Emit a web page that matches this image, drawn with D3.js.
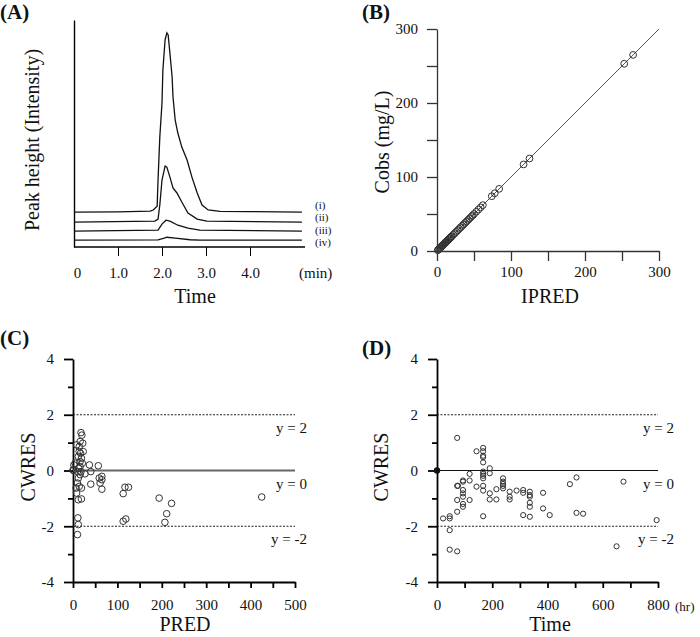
<!DOCTYPE html>
<html>
<head>
<meta charset="utf-8">
<script src="https://cdn.jsdelivr.net/npm/d3@7"></script>
<style>
  body { margin: 0; background: #fff; }
  svg text { font-family: "Liberation Serif", "DejaVu Serif", serif; fill: #111; }
  .tick text { font-size: 15px; }
</style>
</head>
<body>
<svg id="fig" width="700" height="637"></svg>
<script>
// (A) chromatograms: time (min) and intensity above each trace baseline (arbitrary units)
var traceNames = ["(i)", "(ii)", "(iii)", "(iv)"];
var traceOffsets = [15.4, 11, 7, 3];
var traceTimes = [
  [0, 1.0, 1.73, 1.80, 1.89, 1.91, 1.95, 2.00, 2.02, 2.07, 2.11, 2.14, 2.18, 2.23, 2.25, 2.30, 2.36, 2.45, 2.57, 2.68, 2.80, 2.91, 3.05, 3.32, 4.0, 5.18],
  [0, 1.84, 1.91, 1.95, 2.00, 2.07, 2.11, 2.18, 2.25, 2.34, 2.45, 2.59, 2.80, 3.02, 5.18],
  [0, 1.91, 2.00, 2.09, 2.18, 2.36, 2.59, 2.86, 5.18],
  [0, 1.91, 2.05, 2.11, 2.30, 2.64, 2.86, 5.18]
];
var traceIntensity = [
  [0, 0.1, 0.4, 0.9, 2.6, 14.1, 33, 48, 62.6, 75.8, 78.9, 78, 70, 59.5, 50.7, 40.5, 34.8, 28.6, 22.9, 15.4, 8.4, 3.1, 0.9, 0.3, 0.2, 0],
  [0, 0.4, 1.3, 7.5, 18.5, 24.7, 24.2, 19.8, 15, 12.8, 8.8, 4, 1.3, 0.4, 0],
  [0, 0.4, 3.1, 4.8, 4.4, 2.6, 1.3, 0.4, 0],
  [0, 0.1, 0.9, 1.3, 0.9, 0.2, 0, 0]
];
var timeTicksA = [0, 1, 2, 3, 4];

// (B) observed vs individual predicted
var ipred = [1, 2, 3, 4, 5, 6, 7, 8, 9, 10, 11, 12, 13, 14, 15, 16, 17, 18, 19, 20, 22, 24, 26, 28, 30, 32, 34, 36, 38, 40, 42, 44, 46, 48, 50, 53, 56, 59, 62, 74, 78, 84, 117, 125, 253, 265];
var cobs = [1, 2, 3, 4, 5, 6, 7, 8, 9, 10, 11, 12, 13, 14, 15, 16, 17, 18, 19, 20, 22, 24, 26, 28, 30, 32, 34, 36, 38, 40, 42, 44, 46, 48, 50, 53, 56, 59, 62, 74, 78, 84, 117, 125, 253, 265];

// (C) CWRES vs PRED
var predC = [0, 1, 2, 5, 7, 8, 8, 10, 10, 10, 11, 12, 12, 12, 13, 14, 14, 14, 16, 16, 16, 16, 17, 18, 18, 19, 19, 19, 20, 21, 22, 23, 27, 37, 40, 40, 57, 59, 61, 65, 65, 65, 113, 113, 117, 119, 125, 194, 207, 211, 222, 425, 12];
var cwresC = [0.02, 0, 0.2, 0.26, -0.63, 0.92, -0.81, -0.04, -0.45, -2.3, -1.7, 0.5, -0.27, -1.05, 0.08, 0.86, 0.68, -0.57, 1.04, 0.32, 0.14, -0.15, 0.62, 1.36, -0.04, 0.44, -0.63, -1.02, 1.27, 0.26, 0.98, 0.68, -0.12, 0.2, -0.04, -0.49, 0.17, -0.27, -0.45, -0.21, -0.33, -0.67, -0.83, -1.82, -0.6, -1.74, -0.6, -0.99, -1.86, -1.55, -1.18, -0.95, -1.94];

// (D) CWRES vs time
var timeD = [22, 46, 46, 46, 46, 73, 73, 73, 73, 73, 76, 94, 94, 94, 94, 94, 94, 94, 118, 118, 118, 143, 143, 167, 167, 167, 167, 167, 167, 167, 167, 167, 167, 167, 167, 191, 191, 191, 191, 215, 215, 239, 239, 239, 239, 239, 263, 263, 263, 288, 312, 312, 312, 336, 336, 336, 336, 336, 336, 384, 384, 408, 481, 505, 505, 529, 650, 675, 795];
var cwresD = [-1.72, -1.72, -1.64, -2.14, -2.84, -2.9, 1.17, -1.48, -1.06, -0.55, -0.55, -0.36, -0.4, -0.7, -0.82, -0.94, -1.2, -1.3, -0.12, -0.36, -1.06, 0.69, -0.58, 0.81, 0.69, 0.53, 0.48, 0.29, -0.04, -0.12, -0.19, -0.28, -0.55, -0.72, -1.64, 0.08, -0.1, -0.82, -1.04, -0.67, -1.04, -0.28, -0.4, -0.48, -0.55, -0.64, -0.76, -0.94, -1.04, -0.72, -0.7, -0.8, -1.6, -0.76, -0.88, -0.94, -1.16, -1.3, -1.66, -0.8, -1.36, -1.6, -0.49, -0.25, -1.52, -1.55, -2.72, -0.4, -1.78];

var refLines = [2, 0, -2];
var refLabels = ["y = 2", "y = 0", "y = -2"];

var svg = d3.select("#fig");

function panelLabel(txt, x, y) {
    svg.append("text").attr("x", x).attr("y", y)
        .style("font-size", "21px").style("font-weight", "bold").text(txt);
}
function title(txt, x, y, rotate) {
    svg.append("text")
        .attr("transform", "translate(" + x + "," + y + ")" + (rotate ? " rotate(-90)" : ""))
        .attr("text-anchor", "middle")
        .style("font-size", "20px").text(txt);
}

// ---------- (A) ----------
var xA = d3.scaleLinear().domain([0, 5.25]).range([74, 305]);
var yA = d3.scaleLinear().domain([0, 100]).range([247, 20]);

svg.append("g").attr("transform", "translate(0,247)")
    .call(d3.axisBottom(xA).tickValues(timeTicksA).tickSize(9).tickPadding(11)
        .tickFormat(function(d) { return d === 0 ? "0" : d.toFixed(1); }))
    .call(function(g) {
        g.select(".domain").attr("d", "M74,0H305").attr("stroke-width", 1.4);
        g.selectAll(".tick line").filter(function(d) { return d === 0; }).remove();
        g.selectAll(".tick text").filter(function(d) { return d === 0; }).attr("x", 3);
    });
svg.append("g").attr("transform", "translate(74,0)")
    .call(d3.axisLeft(yA).tickValues([]).tickSizeOuter(0))
    .select(".domain").attr("stroke-width", 1.4);

var lineA = d3.line().x(function(d) { return xA(d[0]); }).y(function(d) { return yA(d[1]); });
traceNames.forEach(function(name, i) {
    var pts = traceTimes[i].map(function(t, j) { return [t, traceIntensity[i][j] + traceOffsets[i]]; });
    svg.append("path").datum(pts).attr("d", lineA)
        .attr("fill", "none").attr("stroke", "#111").attr("stroke-width", 1.3);
    svg.append("text").attr("x", 315).attr("y", 209 + i * 12.3)
        .style("font-size", "11px").text(name);
});
svg.append("text").attr("x", 299).attr("y", 278).style("font-size", "15px").text("(min)");
title("Time", 195, 303, false);
title("Peak height (Intensity)", 39, 140, true);
panelLabel("(A)", 0, 19);

// ---------- (B) ----------
var xB = d3.scaleLinear().domain([0, 300]).range([437, 659]);
var yB = d3.scaleLinear().domain([0, 300]).range([251, 29]);

svg.append("g").attr("transform", "translate(0,251)")
    .call(d3.axisBottom(xB).tickValues(d3.range(0, 301, 50)).tickSize(10).tickPadding(5)
        .tickSizeOuter(0).tickFormat(function(d) { return d % 100 === 0 ? d : ""; }))
    .call(function(g) { g.selectAll("path,line").attr("stroke", "#333").attr("stroke-width", 1.3); });
svg.append("g").attr("transform", "translate(437,0)")
    .call(d3.axisLeft(yB).tickValues(d3.range(0, 301, 50)).tickSize(10).tickPadding(9)
        .tickSizeOuter(0).tickFormat(function(d) { return d % 100 === 0 ? d : ""; }))
    .call(function(g) { g.selectAll("path,line").attr("stroke", "#333").attr("stroke-width", 1.3); });

svg.append("line").attr("x1", xB(0)).attr("y1", yB(0)).attr("x2", xB(300)).attr("y2", yB(300))
    .attr("stroke", "#555").attr("stroke-width", 1);
svg.append("g").selectAll("circle").data(ipred).enter().append("circle")
    .attr("cx", function(d) { return xB(d); })
    .attr("cy", function(d, i) { return yB(cobs[i]); })
    .attr("r", 3.4).attr("fill", "none").attr("stroke", "#333").attr("stroke-width", 1);
title("IPRED", 550, 303, false);
title("Cobs (mg/L)", 389, 142, true);
panelLabel("(B)", 362, 19);

// ---------- residual panels ----------
function residualPanel(opt) {
    var x = d3.scaleLinear().domain(opt.xDomain).range(opt.xRange);
    var y = d3.scaleLinear().domain([-4, 4]).range([582, 359]);
    var x0 = opt.xRange[0], x1 = opt.xRange[1];

    svg.append("g").attr("transform", "translate(0,582)")
        .call(d3.axisBottom(x).tickValues(opt.xTicks).tickSize(6).tickPadding(11).tickSizeOuter(0)
            .tickFormat(function(d) { return d % opt.labelStep === 0 ? d : ""; }))
        .call(function(g) { g.selectAll("path,line").attr("stroke-width", 1.8); });
    svg.append("g").attr("transform", "translate(" + x0 + ",0)")
        .call(d3.axisLeft(y).tickValues(d3.range(-4, 5, 1)).tickSize(9).tickSizeOuter(0).tickPadding(10)
            .tickFormat(function(d) { return d % 2 === 0 ? d : ""; }))
        .call(function(g) {
            g.selectAll("path,line").attr("stroke-width", 1.8);
            g.selectAll(".tick line").attr("x2", function(d) { return d % 2 === 0 ? -9 : -5; });
        });

    refLines.forEach(function(v, i) {
        svg.append("line").attr("x1", x0).attr("x2", x1).attr("y1", y(v)).attr("y2", y(v))
            .attr("stroke", v === 0 ? opt.zeroColor : "#222")
            .attr("stroke-width", v === 0 ? opt.zeroWidth : 1.1)
            .attr("stroke-dasharray", v === 0 ? null : "2,1.5");
        svg.append("text").attr("x", opt.labelX).attr("y", y(v) + 18)
            .attr("text-anchor", "end").style("font-size", "15px").text(refLabels[i]);
    });

    svg.append("g").selectAll("circle").data(opt.xs).enter().append("circle")
        .attr("cx", function(d) { return x(d); })
        .attr("cy", function(d, i) { return y(opt.ys[i]); })
        .attr("r", opt.r).attr("fill", "none").attr("stroke", "#333").attr("stroke-width", 1);
    return { x: x, y: y };
}

residualPanel({
    xDomain: [0, 500], xRange: [73, 295], xTicks: d3.range(0, 501, 50), labelStep: 100,
    xs: predC, ys: cwresC, r: 3.3,
    zeroColor: "#666", zeroWidth: 2, labelX: 307
});
title("PRED", 185, 631, false);
title("CWRES", 35, 467, true);
panelLabel("(C)", 0, 345);

var pD = residualPanel({
    xDomain: [0, 800], xRange: [437, 658], xTicks: d3.range(0, 801, 100), labelStep: 200,
    xs: timeD, ys: cwresD, r: 2.6,
    zeroColor: "#111", zeroWidth: 1.2, labelX: 674
});
svg.append("circle").attr("cx", pD.x(0)).attr("cy", pD.y(0)).attr("r", 3.2).attr("fill", "#111");
svg.append("text").attr("x", 675).attr("y", 611).style("font-size", "13px").text("(hr)");
title("Time", 550, 631, false);
title("CWRES", 388, 467, true);
panelLabel("(D)", 362, 355);
</script>
</body>
</html>
